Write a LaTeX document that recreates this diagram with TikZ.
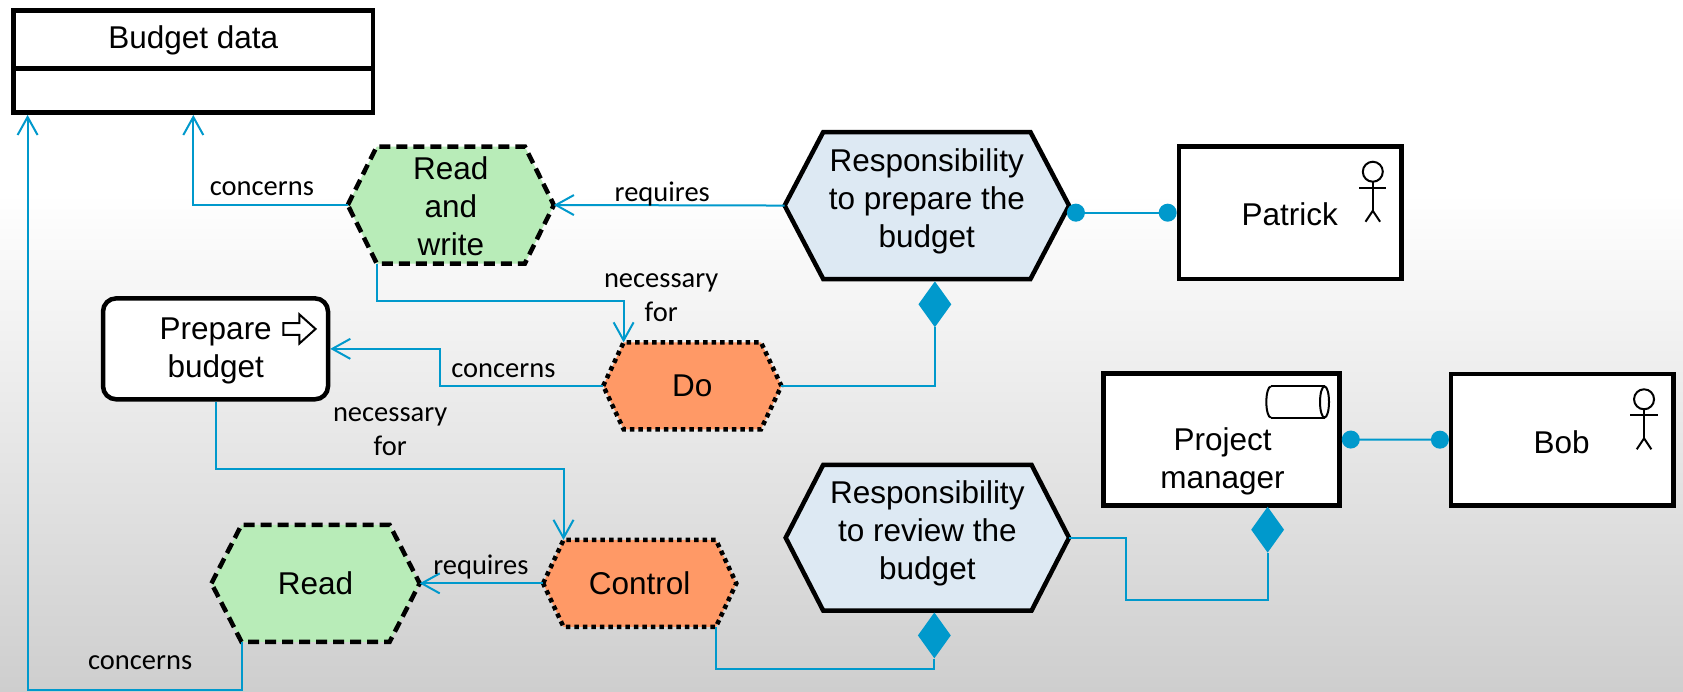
\documentclass[tikz,border=0pt]{standalone}
\usepackage{fontspec}
\setmainfont{Liberation Sans}
\newfontfamily\lblfont{Carlito}
\usetikzlibrary{arrows.meta,shapes.geometric,fit,calc}
\definecolor{cblue}{RGB}{0,153,204}
\definecolor{hgreen}{RGB}{184,236,184}
\definecolor{horange}{RGB}{255,153,102}
\definecolor{hblue}{RGB}{221,233,243}
\definecolor{bgbot}{RGB}{206,206,206}

% name, L, R, T, B, inset, style, text y offset, text
\newcommand\hexa[9]{%
  \pgfmathsetmacro\hcy{(#4+#5)/2}%
  \pgfmathsetmacro\hcx{(#2+#3)/2}%
  \coordinate (#1-w) at (#2,\hcy);
  \coordinate (#1-e) at (#3,\hcy);
  \coordinate (#1-tl) at (#2+#6,#4);
  \coordinate (#1-tr) at (#3-#6,#4);
  \coordinate (#1-bl) at (#2+#6,#5);
  \coordinate (#1-br) at (#3-#6,#5);
  \path[#7] (#1-w) -- (#1-tl) -- (#1-tr) -- (#1-e) -- (#1-br) -- (#1-bl) -- cycle;
  \node[hextext] (#1) at (\hcx,\hcy+#8) {#9};
}
\newcommand\stickman[2]{%
  \draw[line width=2pt] (#1,#2) circle[radius=10pt];
  \draw[line width=2pt] (#1-12.7,#2+14.7) -- (#1+12.7,#2+14.7);
  \draw[line width=2pt] (#1,#2+9.3) -- (#1,#2+36.4);
  \draw[line width=2pt] (#1-6.8,#2+46.6) -- (#1,#2+36.4) -- (#1+6.8,#2+46.6);
}

\begin{document}
\begin{tikzpicture}[x=1.0733pt,y=-1.0733pt,
  box/.style={draw=black,line width=4.5pt,fill=white,inner sep=0pt},
  hextext/.style={align=center,font=\fontsize{31.5}{38}\selectfont,inner sep=0pt},
  lbl/.style={align=center,font=\lblfont\fontsize{28.5}{33.8}\selectfont,inner sep=0pt},
  conn/.style={draw=cblue,line width=2pt},
  arr/.style={-{Straight Barb[length=18pt,width=20pt]}},
  dots/.style={{Circle[length=18pt,width=18pt]}-{Circle[length=18pt,width=18pt]}},
  dia/.style={diamond,fill=cblue,draw=none,inner sep=0pt,minimum width=33pt,minimum height=46pt},
  hexdash/.style={fill=hgreen,draw=black,line width=4.5pt,dash pattern=on 11pt off 6pt},
  hexdot/.style={fill=horange,draw=black,line width=4.5pt,dash pattern=on 4.5pt off 4pt},
  hexsolid/.style={fill=hblue,draw=black,line width=4.5pt},
]
\useasboundingbox (0,0) rectangle (1568,644);
% background
\fill[white] (0,0) rectangle (1568,644);
\shade[top color=white,bottom color=bgbot] (0,180) rectangle (1568,644);

% boxes
\node[box,fit={(12.7,9.8) (347.5,105)}] (bd) {};
\draw[line width=4.5pt] (12.7,63.7) -- (347.5,63.7);
\node[hextext] (bdt) at (180,38) {Budget data};

\node[box,fit={(1098.4,136.5) (1305.8,259.8)}] (pa) {};
\node[hextext] (pat) at (1201.6,200) {Patrick};
\stickman{1279}{160}

\node[box,fit={(1352,348.3) (1559,471)}] (bob) {};
\node[hextext] (bobt) at (1455,412) {Bob};
\stickman{1531.7}{372}

\node[box,fit={(1028,348) (1248,471)}] (pm) {};
\node[hextext] (pmt) at (1139,430) {Project\\manager};
\draw[line width=2pt] (1184,360) -- (1234,360);
\draw[line width=2pt] (1184,389) -- (1234,389);
\draw[line width=2pt] (1184,360) arc[start angle=90,end angle=270,x radius=4.5pt,y radius=15.6pt];
\draw[line width=2pt] (1234,374.5) ellipse[x radius=4.5pt,y radius=15.6pt];

\node[box,rounded corners=13pt,fit={(96,278) (305.6,372)}] (pb) {};
\node[hextext] (pbt) at (201,327) {Prepare\\budget};
\draw[line width=2pt,line join=miter] (264,301) -- (279,301) -- (279,293) -- (294,306.5) -- (279,320) -- (279,312) -- (264,312) -- cycle;

% hexagons
\hexa{rw}{324}{516}{136.5}{245.5}{27}{hexdash}{1}{Read\\and\\write}
\hexa{r1}{731}{996}{123}{260}{36}{hexsolid}{-4}{Responsibility\\to prepare the\\budget}
\hexa{do}{562}{728}{319}{400}{19}{hexdot}{0}{Do}
\hexa{rd}{197}{391}{489}{598}{28}{hexdash}{0}{Read}
\hexa{ct}{506}{686}{503}{584}{19}{hexdot}{0}{Control}
\hexa{r2}{732}{996}{433}{569}{35}{hexsolid}{-4}{Responsibility\\to review the\\budget}

% diamonds
\node[dia] (d1) at (871,283.5) {};
\node[dia] (d2) at (870.5,592) {};
\node[dia] (d3) at (1181,493.5) {};

% connectors
\coordinate (cbl) at (25.7,643);
\draw[conn,arr] (r1-w) -- (rw-e);
\draw[conn,arr] (rw-w) -| (bd.south);
\draw[conn,arr] (rd-bl) |- (cbl) -- (cbl |- bd.south);
\draw[conn,arr] (rw-bl) -- ++(0,35) -| (do-tl);
\draw[conn,arr] (do-w) -- ++(-152,0) |- (pb.east);
\draw[conn] (do-e) -| (d1.south);
\draw[conn,arr] (pb.south) -- ++(0,63) -| (ct-tl);
\draw[conn,arr] (ct-w) -- (rd-e);
\draw[conn] (ct-br) -- ++(0,39) -| (d2.south);
\draw[conn] (r2-e) -- ++(53,0) -- ++(0,58) -| (d3.south);
\draw[conn,dots] ($(pa.west -| r1-e)+(-2,0)$) -- (pa.west);
\draw[conn,dots] (pm.east) -- (bob.west);

% labels
\node[lbl] (l1) at (244,175.6) {concerns};
\node[lbl] (l2) at (617,181) {requires};
\node[lbl] (l3) at (616,277) {necessary\\for};
\node[lbl] (l4) at (469,345.4) {concerns};
\node[lbl] (l5) at (363.5,402.5) {necessary\\for};
\node[lbl] (l6) at (448,528) {requires};
\node[lbl] (l7) at (130.6,617) {concerns};
\end{tikzpicture}
\end{document}
